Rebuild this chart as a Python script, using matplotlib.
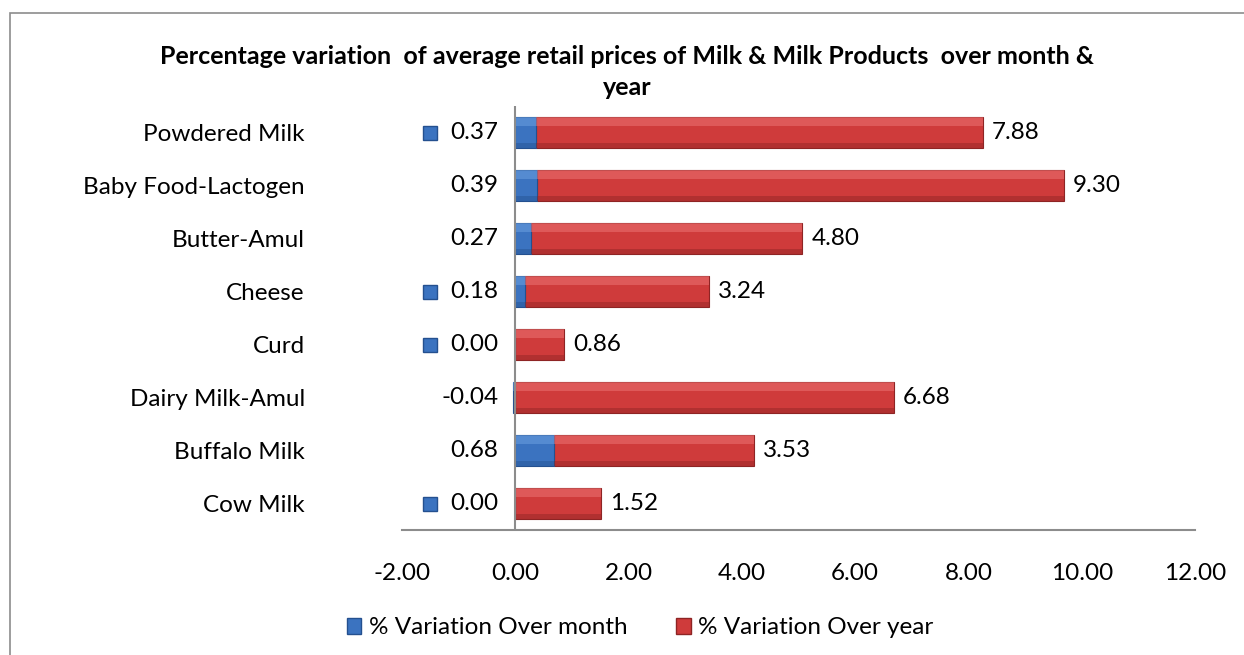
import matplotlib
matplotlib.use("Agg")
import matplotlib.pyplot as plt
from matplotlib.patches import Patch, Rectangle
from matplotlib.transforms import ScaledTranslation

categories = ["Cow Milk", "Buffalo Milk", "Dairy Milk-Amul", "Curd", "Cheese",
              "Butter-Amul", "Baby Food-Lactogen", "Powdered Milk"]
over_month = [0.00, 0.68, -0.04, 0.00, 0.18, 0.27, 0.39, 0.37]
over_year = [1.52, 3.53, 6.68, 0.86, 3.24, 4.80, 9.30, 7.88]
key_shown = [True, False, False, True, True, False, False, True]
xticks = [-2, 0, 2, 4, 6, 8, 10, 12]
title = "Percentage variation  of average retail prices of Milk & Milk Products  over month &\nyear"
series_names = ["% Variation Over month", "% Variation Over year"]

FONT = ["Lato", "DejaVu Sans"]
plt.rcParams["font.family"] = FONT
FS = 17.5

W, H = 1244, 655
fig = plt.figure(figsize=(W / 100, H / 100), dpi=100)

# outer chart frame (partly cropped)
fig.patches.append(Rectangle((10 / W, -0.1), 1.2, 1 - 13 / H + 0.1, transform=fig.transFigure,
                             fill=False, edgecolor="#8c8c8c", linewidth=1.2))

ax = fig.add_axes([402 / W, 1 - 530 / H, (1195 - 402) / W, (530 - 106) / H])

blue, blue_hi, blue_dk = "#3b73c0", "#6b9fe0", "#24508f"
red, red_hi, red_dk = "#cf3b3b", "#ec7272", "#8e2424"
h = 0.6
y = list(range(len(categories)))
red_left = [max(m, 0) for m in over_month]

def bevel_bars(left, width, main, hi, dk):
    ax.barh(y, width, left=left, height=h, color=main, edgecolor=dk, linewidth=0.8, zorder=3)
    ax.barh([v + h * 0.36 for v in y], width, left=left, height=h * 0.28, color=hi,
            linewidth=0, zorder=4, alpha=0.55)
    ax.barh([v - h * 0.42 for v in y], width, left=left, height=h * 0.16, color=dk,
            linewidth=0, zorder=4, alpha=0.45)

bevel_bars(red_left, over_year, red, red_hi, red_dk)
bevel_bars([0] * len(y), over_month, blue, blue_hi, blue_dk)

ax.set_xlim(xticks[0], xticks[-1])
ax.set_ylim(-0.5, len(categories) - 0.5)
ax.set_xticks(xticks)
ax.set_xticklabels([f"{t:.2f}" for t in xticks], fontsize=FS)
ax.set_yticks(y)
ax.set_yticklabels(categories, fontsize=FS)
ax.tick_params(axis="both", length=0)
ax.tick_params(axis="y", pad=70)
ax.tick_params(axis="x", pad=24)
for s in ["top", "right", "left"]:
    ax.spines[s].set_visible(False)
ax.spines["bottom"].set_color("#8c8c8c")
ax.spines["bottom"].set_linewidth(1.5)
ax.axvline(0, color="#8c8c8c", linewidth=1.5, zorder=5)

key_shift = ax.transData + ScaledTranslation(-85 / 100, 0, fig.dpi_scale_trans)
for i in y:
    ax.annotate(f"{over_month[i]:.2f}", (0, i), xytext=(-17, 0), textcoords="offset pixels",
                ha="right", va="center", fontsize=FS, annotation_clip=False)
    if key_shown[i]:
        ax.plot([0], [i], marker="s", markersize=10, color=blue, markeredgecolor=blue_dk,
                transform=key_shift, clip_on=False, zorder=6)
    end = red_left[i] + over_year[i]
    ax.annotate(f"{over_year[i]:.2f}", (end, i), xytext=(9, 0), textcoords="offset pixels",
                ha="left", va="center", fontsize=FS, annotation_clip=False)

fig.text(627 / W, 1 - 72 / H, title, ha="center", va="center", fontsize=18,
         fontweight="bold", linespacing=1.45)

handles = [Patch(facecolor=blue, edgecolor=blue_dk), Patch(facecolor=red, edgecolor=red_dk)]
fig.legend(handles, series_names, loc="center", bbox_to_anchor=(640 / W, 1 - 628 / H), ncol=2,
           frameon=False, fontsize=FS, handlelength=0.6, handleheight=0.6, handletextpad=0.3,
           columnspacing=2.0)

fig.savefig("out.png", dpi=100)
